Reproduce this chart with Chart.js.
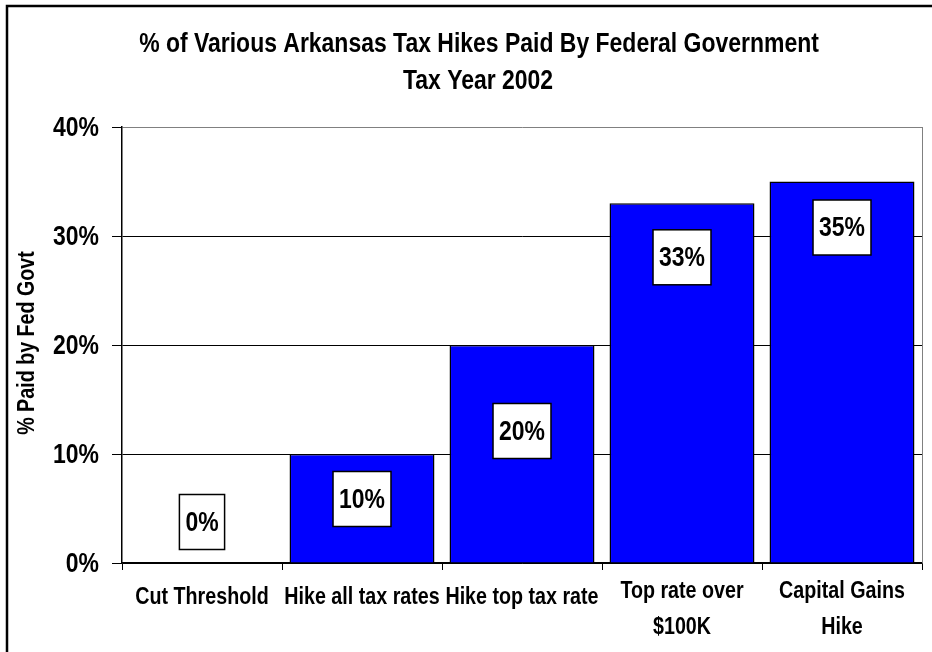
<!DOCTYPE html>
<html>
<head>
<meta charset="utf-8">
<title>Arkansas Tax Hikes Paid By Federal Government</title>
<script src="https://cdn.jsdelivr.net/npm/chart.js@4.4.1/dist/chart.umd.min.js"></script>
<style>
    html, body { margin: 0; padding: 0; background: #fff; }
    #wrap { width: 932px; height: 652px; }
</style>
</head>
<body>
<div id="wrap"><canvas id="taxChart" width="932" height="652"></canvas></div>
<script>
// Chart data
const categories = [
    ['Cut Threshold'],
    ['Hike all tax rates'],
    ['Hike top tax rate'],
    ['Top rate over', '$100K'],
    ['Capital Gains', 'Hike']
];
const paidByFed = [0, 10, 20, 33, 35];
const valueLabels = ['0%', '10%', '20%', '33%', '35%'];
const tickLabels = ['0%', '10%', '20%', '30%', '40%'];
const titleLines = ['% of Various Arkansas Tax Hikes Paid By Federal Government', 'Tax Year 2002'];
const yTitle = '% Paid by Fed Govt';

// No narrow font is installed, so text is squeezed horizontally like Arial Narrow
const FONT = "'Liberation Sans', Arial, sans-serif";
const NARROW = 0.82;

function narrowText(ctx, text, x, y, size, align, angle) {
    ctx.save();
    ctx.translate(x, y);
    if (angle) ctx.rotate(angle);
    ctx.scale(NARROW, 1);
    ctx.font = 'bold ' + size + 'px ' + FONT;
    ctx.textAlign = align;
    ctx.textBaseline = 'middle';
    ctx.fillStyle = '#000';
    ctx.fillText(text, 0, 0);
    ctx.restore();
}

const chartDecor = {
    id: 'chartDecor',
    beforeDatasetsDraw(chart) {
        // grey right edge of the plot area
        const { ctx, chartArea } = chart;
        ctx.save();
        ctx.strokeStyle = '#808080';
        ctx.lineWidth = 1;
        ctx.beginPath();
        ctx.moveTo(Math.round(chartArea.right) + 0.5, chartArea.top);
        ctx.lineTo(Math.round(chartArea.right) + 0.5, chartArea.bottom);
        ctx.stroke();
        ctx.restore();
    },
    afterDatasetsDraw(chart, args, opts) {
        // boxed value labels
        const { ctx } = chart;
        const bars = chart.getDatasetMeta(0).data;
        bars.forEach((bar, i) => {
            const text = valueLabels[i];
            ctx.save();
            ctx.font = 'bold 28px ' + FONT;
            const w = ctx.measureText(text).width * NARROW + 12;
            const h = 55;
            const cy = bar.y + opts.offsets[i];
            ctx.fillStyle = '#fff';
            ctx.fillRect(bar.x - w / 2, cy - h / 2, w, h);
            ctx.strokeStyle = '#000';
            ctx.lineWidth = 1.5;
            ctx.strokeRect(bar.x - w / 2, cy - h / 2, w, h);
            ctx.restore();
            narrowText(ctx, text, bar.x, cy + 1, 28, 'center');
        });
    },
    afterDraw(chart, args, opts) {
        const { ctx, width, height, scales } = chart;

        // axis tick labels
        scales.y.ticks.forEach((t, i) => {
            narrowText(ctx, tickLabels[i], scales.y.right - 23, scales.y.getPixelForValue(t.value) + 1, 28, 'right');
        });
        categories.forEach((lines, i) => {
            const x = scales.x.getPixelForTick(i);
            const y0 = lines.length > 1 ? opts.xLabelTop - 6 : opts.xLabelTop;
            lines.forEach((line, k) => {
                narrowText(ctx, line, x, y0 + k * 36, 24, 'center');
            });
        });

        // titles
        narrowText(ctx, titleLines[0], 479, 44, 28, 'center');
        narrowText(ctx, titleLines[1], 478, 81, 28, 'center');
        narrowText(ctx, yTitle, 27, (chart.chartArea.top + chart.chartArea.bottom) / 2 - 2, 24, 'center', -Math.PI / 2);

        // outer frame (left and top edges)
        ctx.save();
        ctx.strokeStyle = '#000';
        ctx.lineWidth = 2.5;
        ctx.beginPath();
        ctx.moveTo(7, height);
        ctx.lineTo(7, 6);
        ctx.lineTo(width, 6);
        ctx.stroke();
        ctx.restore();
    }
};

const ctx = document.getElementById('taxChart').getContext('2d');
const taxChart = new Chart(ctx, {
    type: 'bar',
    data: {
        labels: categories,
        datasets: [{
            label: yTitle,
            data: paidByFed,
            backgroundColor: '#0000FF',
            borderColor: '#000',
            borderWidth: 1.5,
            barPercentage: 0.906,
            categoryPercentage: 1
        }]
    },
    options: {
        responsive: false,
        animation: false,
        devicePixelRatio: 1,
        layout: {
            padding: { left: 0, right: 10, top: 127, bottom: 0 }
        },
        plugins: {
            legend: { display: false },
            tooltip: { enabled: false },
            title: { display: false },
            chartDecor: {
                offsets: [-41, 45, 86, 54, 46],
                xLabelTop: 597
            }
        },
        scales: {
            x: {
                afterFit: s => { s.height = 89; },
                grid: {
                    offset: true,
                    drawOnChartArea: false,
                    tickLength: 7,
                    tickColor: '#000'
                },
                border: { color: '#000', width: 1.5 },
                ticks: { display: false, autoSkip: false }
            },
            y: {
                min: 0,
                max: 40,
                afterFit: s => { s.width = 122; },
                grid: {
                    color: c => (c.tick && c.tick.value === 40 ? '#808080' : '#000'),
                    tickColor: '#000',
                    tickLength: 10
                },
                border: { color: '#000', width: 1.5 },
                ticks: { display: false, stepSize: 10 }
            }
        }
    },
    plugins: [chartDecor]
});
</script>
</body>
</html>
